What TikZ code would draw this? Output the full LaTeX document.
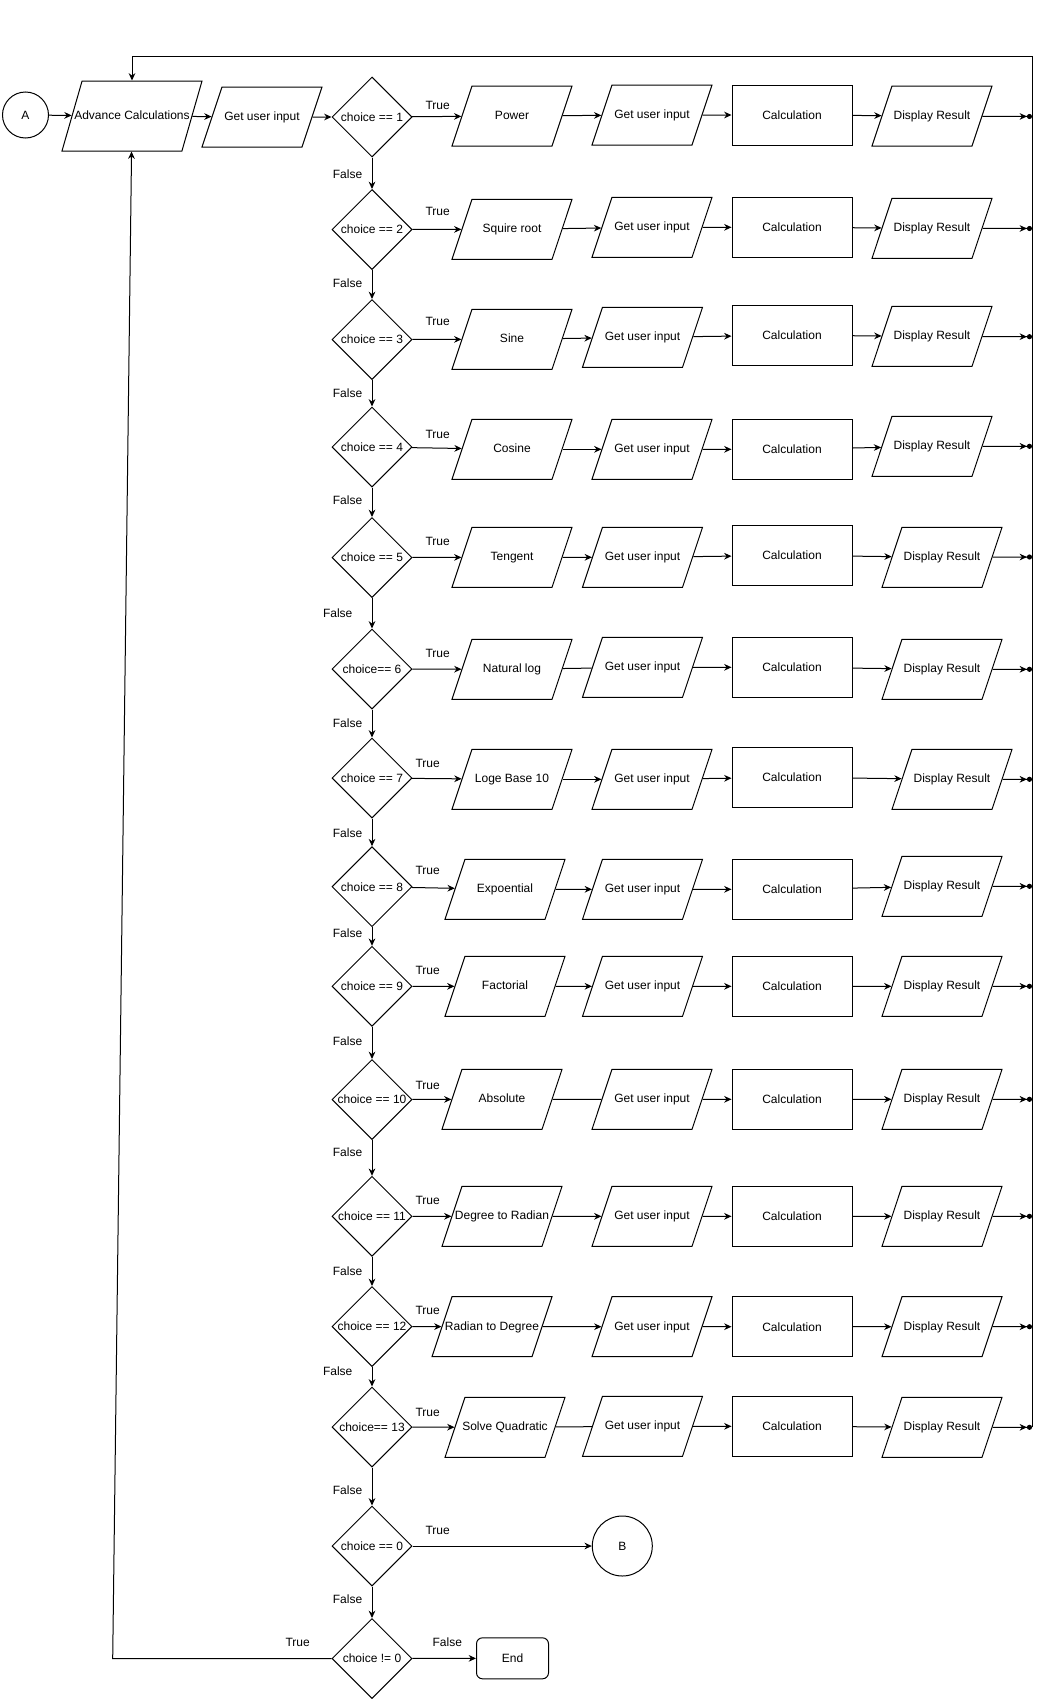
\documentclass[tikz,border=0pt]{standalone}
\usepackage{fontspec}
\setmainfont{Liberation Sans}
\usetikzlibrary{arrows.meta,shapes.geometric}
\newcommand{\chartfont}{\fontsize{9pt}{10.8pt}\selectfont}
\tikzset{
  iobox/.style={draw,trapezium,trapezium left angle=71.57,trapezium right angle=108.43,
                trapezium stretches body,minimum width=90pt,minimum height=45pt,
                text height=7pt,text depth=2pt,inner xsep=-10pt,inner ysep=18pt,
                line width=0.75pt,font=\chartfont},
  advbox/.style={iobox,trapezium left angle=74,trapezium right angle=106,
                 minimum width=105pt,minimum height=52.5pt,inner ysep=21.75pt},
  calcbox/.style={draw,rectangle,minimum width=90pt,minimum height=45pt,
                  line width=0.75pt,font=\chartfont},
  decision/.style={draw,diamond,minimum size=60pt,inner sep=0pt,
                   line width=0.75pt,font=\chartfont},
  joint/.style={draw,circle,inner sep=0pt,line width=0.75pt,font=\chartfont},
  endbox/.style={draw,rounded corners=4.5pt,minimum width=54pt,minimum height=30.75pt,
                 line width=0.75pt,font=\chartfont},
  lbl/.style={font=\chartfont,inner sep=0pt},
  arr/.style={-{Stealth[length=5.5pt,width=5pt]},line width=0.75pt},
  dotarr/.style={-{Stealth[length=5.5pt,width=5pt]Circle[length=3.8pt]},line width=0.75pt},
  plain/.style={line width=0.75pt}
}
\begin{document}
\begin{tikzpicture}[x=0.75pt,y=-0.75pt]
    \path[use as bounding box] (0,0) rectangle (1043,1699);
    % entry
    \node[joint,minimum size=34.5pt] (startA) at (25.5,115) {A};
    \node[advbox] (advcalc) at (132,116) {Advance Calculations};
    \node[iobox] (getin) at (262,117) {Get user input};
    \draw[arr] (startA) -- (advcalc);
    \draw[arr] (advcalc) -- (getin);

    % decisions
    \node[decision] (c1) at (372,117) {choice == 1};
    \node[decision] (c2) at (372,229.5) {choice == 2};
    \node[decision] (c3) at (372,339.5) {choice == 3};
    \node[decision] (c4) at (372,447) {choice == 4};
    \node[decision] (c5) at (372,557.5) {choice == 5};
    \node[decision] (c6) at (372,669) {choice== 6};
    \node[decision] (c7) at (372,778) {choice == 7};
    \node[decision] (c8) at (372,886.7) {choice == 8};
    \node[decision] (c9) at (372,986.3) {choice == 9};
    \node[decision] (c10) at (372,1099.5) {choice == 10};
    \node[decision] (c11) at (372,1216.3) {choice == 11};
    \node[decision] (c12) at (372,1326.5) {choice == 12};
    \node[decision] (c13) at (372,1427) {choice== 13};
    \node[decision] (c0) at (372,1546) {choice == 0};
    \node[decision] (cnot) at (372,1658.5) {choice != 0};
    \draw[arr] (getin) -- (c1);

    % operations
    \node[iobox] (op1) at (512,116) {Power};
    \node[iobox] (op2) at (512,229.3) {Squire root};
    \node[iobox] (op3) at (512,339.3) {Sine};
    \node[iobox] (op4) at (512,449.3) {Cosine};
    \node[iobox] (op5) at (512,557.3) {Tengent};
    \node[iobox] (op6) at (512,669.3) {Natural log};
    \node[iobox] (op7) at (512,779.3) {Loge Base 10};
    \node[iobox] (op8) at (505,889.3) {Expoential};
    \node[iobox] (op9) at (505,986.3) {Factorial};
    \node[iobox] (op10) at (502,1099.3) {Absolute};
    \node[iobox] (op11) at (502,1216.3) {Degree to Radian};
    \node[iobox] (op12) at (492,1326.7) {Radian to Degree};
    \node[iobox] (op13) at (505,1427.3) {Solve Quadratic};

    % inputs
    \node[iobox] (in1) at (652,115) {Get user input};
    \node[iobox] (in2) at (652,227.3) {Get user input};
    \node[iobox] (in3) at (642.5,337.3) {Get user input};
    \node[iobox] (in4) at (652,449.3) {Get user input};
    \node[iobox] (in5) at (642.5,557.3) {Get user input};
    \node[iobox] (in6) at (642.5,667.3) {Get user input};
    \node[iobox] (in7) at (652,779.3) {Get user input};
    \node[iobox] (in8) at (642.5,889.3) {Get user input};
    \node[iobox] (in9) at (642.5,986.3) {Get user input};
    \node[iobox] (in10) at (652,1099.3) {Get user input};
    \node[iobox] (in11) at (652,1216.3) {Get user input};
    \node[iobox] (in12) at (652,1326.7) {Get user input};
    \node[iobox] (in13) at (642.5,1426.3) {Get user input};

    % calculations
    \node[calcbox] (calc1) at (792,115) {Calculation};
    \node[calcbox] (calc2) at (792,227.3) {Calculation};
    \node[calcbox] (calc3) at (792,335.3) {Calculation};
    \node[calcbox] (calc4) at (792,449.3) {Calculation};
    \node[calcbox] (calc5) at (792,555.3) {Calculation};
    \node[calcbox] (calc6) at (792,667.3) {Calculation};
    \node[calcbox] (calc7) at (792,777.3) {Calculation};
    \node[calcbox] (calc8) at (792,889.3) {Calculation};
    \node[calcbox] (calc9) at (792,986.3) {Calculation};
    \node[calcbox] (calc10) at (792,1099.3) {Calculation};
    \node[calcbox] (calc11) at (792,1216.3) {Calculation};
    \node[calcbox] (calc12) at (792,1326.7) {Calculation};
    \node[calcbox] (calc13) at (792,1426.3) {Calculation};

    % results
    \node[iobox] (show1) at (932,116) {Display Result};
    \node[iobox] (show2) at (932,228.3) {Display Result};
    \node[iobox] (show3) at (932,336.3) {Display Result};
    \node[iobox] (show4) at (932,446.3) {Display Result};
    \node[iobox] (show5) at (942,557.3) {Display Result};
    \node[iobox] (show6) at (942,669.3) {Display Result};
    \node[iobox] (show7) at (952,779.3) {Display Result};
    \node[iobox] (show8) at (942,886.3) {Display Result};
    \node[iobox] (show9) at (942,986.3) {Display Result};
    \node[iobox] (show10) at (942,1099.3) {Display Result};
    \node[iobox] (show11) at (942,1216.3) {Display Result};
    \node[iobox] (show12) at (942,1326.7) {Display Result};
    \node[iobox] (show13) at (942,1427.3) {Display Result};

    % return bus
    \coordinate (bus1) at (1032,116.5);
    \coordinate (bus2) at (1032,228.5);
    \coordinate (bus3) at (1032,336.7);
    \coordinate (bus4) at (1032,446.3);
    \coordinate (bus5) at (1032,557);
    \coordinate (bus6) at (1032,669.3);
    \coordinate (bus7) at (1032,779.3);
    \coordinate (bus8) at (1032,886.3);
    \coordinate (bus9) at (1032,986.3);
    \coordinate (bus10) at (1032,1099.3);
    \coordinate (bus11) at (1032,1216.3);
    \coordinate (bus12) at (1032,1326.7);
    \coordinate (bus13) at (1032,1427.3);
    \coordinate (bustop) at (1032,56);

    % rows
    \draw[arr] (c1) -- (op1); \draw[arr] (op1) -- (in1); \draw[arr] (in1) -- (calc1);
    \draw[arr] (calc1) -- (show1); \draw[dotarr] (show1) -- (bus1);
    \draw[arr] (c2) -- (op2); \draw[arr] (op2) -- (in2); \draw[arr] (in2) -- (calc2);
    \draw[arr] (calc2) -- (show2); \draw[dotarr] (show2) -- (bus2);
    \draw[arr] (c3) -- (op3); \draw[arr] (op3) -- (in3); \draw[arr] (in3) -- (calc3);
    \draw[arr] (calc3) -- (show3); \draw[dotarr] (show3) -- (bus3);
    \draw[arr] (c4) -- (op4); \draw[arr] (op4) -- (in4); \draw[arr] (in4) -- (calc4);
    \draw[arr] (calc4) -- (show4); \draw[dotarr] (show4) -- (bus4);
    \draw[arr] (c5) -- (op5); \draw[arr] (op5) -- (in5); \draw[arr] (in5) -- (calc5);
    \draw[arr] (calc5) -- (show5); \draw[dotarr] (show5) -- (bus5);
    \draw[arr] (c6) -- (op6); \draw[plain] (op6) -- (in6); \draw[arr] (in6) -- (calc6);
    \draw[arr] (calc6) -- (show6); \draw[dotarr] (show6) -- (bus6);
    \draw[arr] (c7) -- (op7); \draw[arr] (op7) -- (in7); \draw[arr] (in7) -- (calc7);
    \draw[arr] (calc7) -- (show7); \draw[dotarr] (show7) -- (bus7);
    \draw[arr] (c8) -- (op8); \draw[arr] (op8) -- (in8); \draw[arr] (in8) -- (calc8);
    \draw[arr] (calc8) -- (show8); \draw[dotarr] (show8) -- (bus8);
    \draw[arr] (c9) -- (op9); \draw[arr] (op9) -- (in9); \draw[arr] (in9) -- (calc9);
    \draw[arr] (calc9) -- (show9); \draw[dotarr] (show9) -- (bus9);
    \draw[arr] (c10) -- (op10); \draw[plain] (op10) -- (in10); \draw[arr] (in10) -- (calc10);
    \draw[arr] (calc10) -- (show10); \draw[dotarr] (show10) -- (bus10);
    \draw[arr] (c11) -- (op11); \draw[arr] (op11) -- (in11); \draw[arr] (in11) -- (calc11);
    \draw[arr] (calc11) -- (show11); \draw[dotarr] (show11) -- (bus11);
    \draw[arr] (c12) -- (op12); \draw[arr] (op12) -- (in12); \draw[arr] (in12) -- (calc12);
    \draw[arr] (calc12) -- (show12); \draw[dotarr] (show12) -- (bus12);
    \draw[arr] (c13) -- (op13); \draw[plain] (op13) -- (in13); \draw[arr] (in13) -- (calc13);
    \draw[arr] (calc13) -- (show13); \draw[dotarr] (show13) -- (bus13);
    \draw[arr] (bus13) -- (bustop) -| (advcalc);

    % false chain
    \draw[arr] (c1) -- (c2);
    \draw[arr] (c2) -- (c3);
    \draw[arr] (c3) -- (c4);
    \draw[arr] (c4) -- (c5);
    \draw[arr] (c5) -- (c6);
    \draw[arr] (c6) -- (c7);
    \draw[arr] (c7) -- (c8);
    \draw[arr] (c8) -- (c9);
    \draw[arr] (c9) -- (c10);
    \draw[arr] (c10) -- (c11);
    \draw[arr] (c11) -- (c12);
    \draw[arr] (c12) -- (c13);
    \draw[arr] (c13) -- (c0);
    \draw[arr] (c0) -- (cnot);

    % exits
    \node[joint,minimum size=45pt] (exitB) at (622.3,1546) {B};
    \node[endbox] (stop) at (512.5,1658.3) {End};
    \coordinate (loopcorner) at (112.7,1658.5);
    \draw[arr] (c0) -- (exitB);
    \draw[arr] (cnot) -- (stop);
    \draw[arr] (cnot) -- (loopcorner) -- (advcalc);

    % labels
    \node[lbl] (t1) at (437.7,105.7) {True};
    \node[lbl] (t2) at (437.7,211.7) {True};
    \node[lbl] (t3) at (437.7,321.7) {True};
    \node[lbl] (t4) at (437.7,434) {True};
    \node[lbl] (t5) at (437.7,541.7) {True};
    \node[lbl] (t6) at (437.7,653.3) {True};
    \node[lbl] (t7) at (427.7,763.3) {True};
    \node[lbl] (t8) at (427.7,870.7) {True};
    \node[lbl] (t9) at (427.7,970.7) {True};
    \node[lbl] (t10) at (427.7,1085) {True};
    \node[lbl] (t11) at (427.7,1200.7) {True};
    \node[lbl] (t12) at (427.7,1310.7) {True};
    \node[lbl] (t13) at (427.7,1412.7) {True};
    \node[lbl] (t0) at (437.7,1530) {True};
    \node[lbl] (tnot) at (297.7,1642.3) {True};
    \node[lbl] (f1) at (347.5,174.3) {False};
    \node[lbl] (f2) at (347.5,283.3) {False};
    \node[lbl] (f3) at (347.5,393.3) {False};
    \node[lbl] (f4) at (347.5,500) {False};
    \node[lbl] (f5) at (337.7,613.3) {False};
    \node[lbl] (f6) at (347.5,723.3) {False};
    \node[lbl] (f7) at (347.5,833.3) {False};
    \node[lbl] (f8) at (347.5,933.3) {False};
    \node[lbl] (f9) at (347.5,1040.7) {False};
    \node[lbl] (f10) at (347.5,1151.7) {False};
    \node[lbl] (f11) at (347.5,1270.7) {False};
    \node[lbl] (f12) at (337.7,1370.7) {False};
    \node[lbl] (f13) at (347.5,1490) {False};
    \node[lbl] (f0) at (347.5,1599.3) {False};
    \node[lbl] (fnot) at (447.3,1642.3) {False};
  \end{tikzpicture}
\end{document}
